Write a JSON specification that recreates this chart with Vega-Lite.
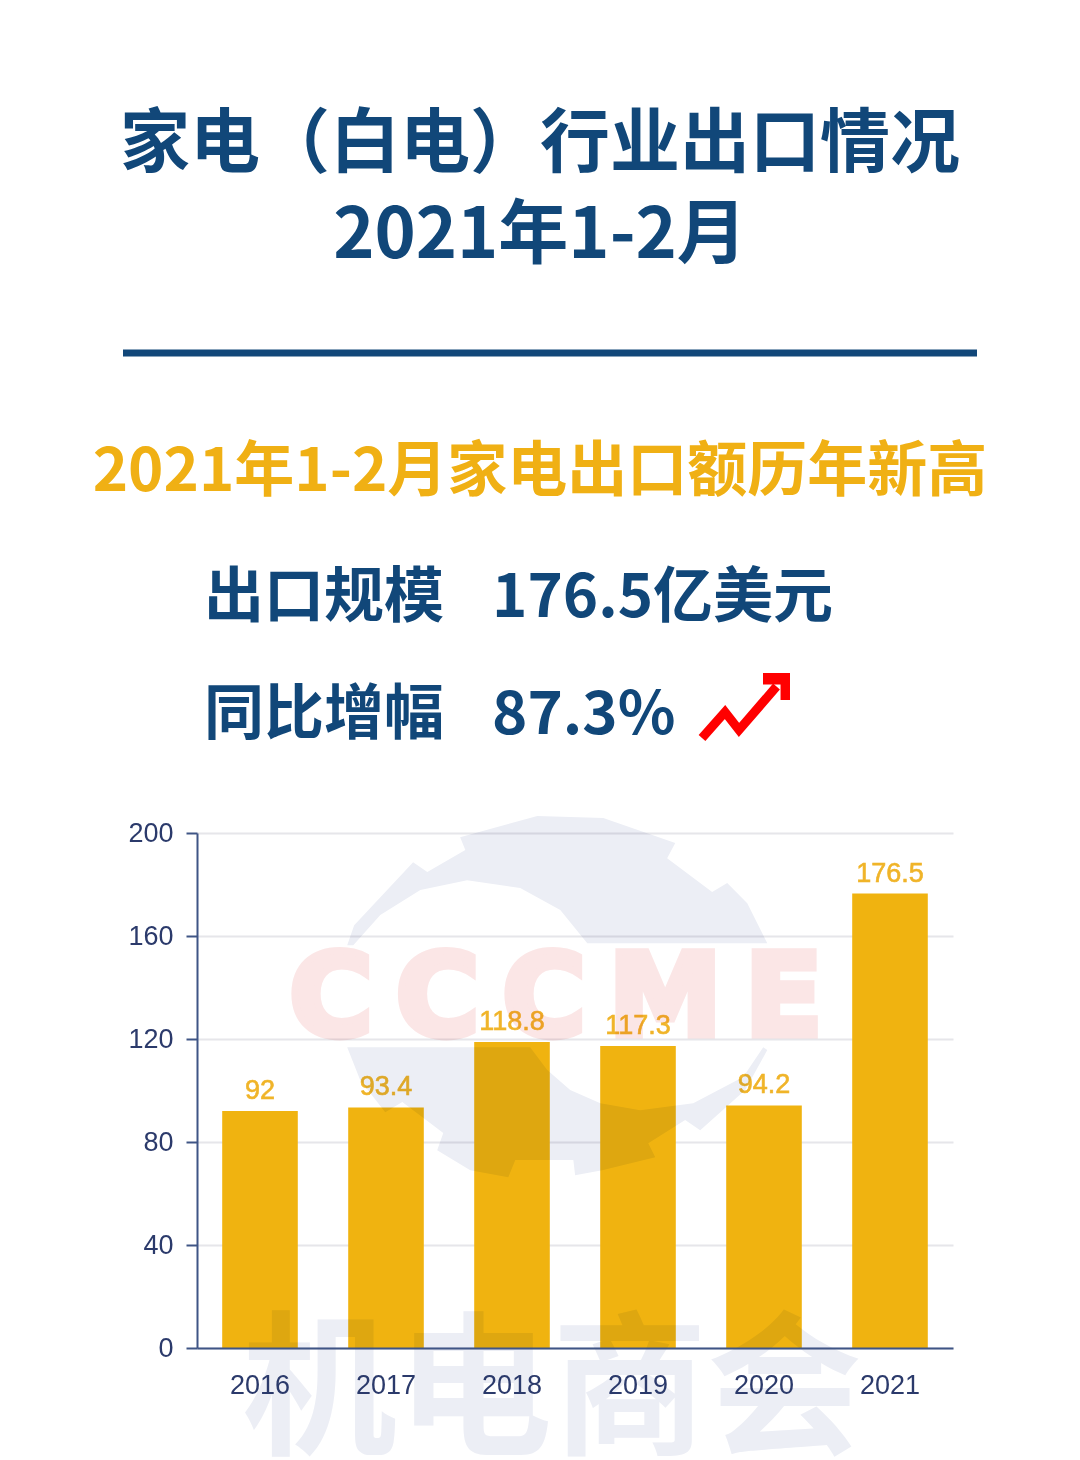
{
"$schema":"https://vega.github.io/schema/vega-lite/v6.json",
"background":"white",
"padding":{"left":92,"top":111,"right":0,"bottom":0},
"config":{"view":{"stroke":null},"font":"Noto Sans CJK SC"},
"spacing":0,
"datasets":{
"exports":[{"year":"2016","value":92},{"year":"2017","value":93.4},{"year":"2018","value":118.8},{"year":"2019","value":117.3},{"year":"2020","value":94.2},{"year":"2021","value":176.5}],
"metrics":[{"metric":"出口规模","column":"label","text":"出口规模"},{"metric":"出口规模","column":"value","text":"176.5亿美元"},{"metric":"同比增幅","column":"label","text":"同比增幅"},{"metric":"同比增幅","column":"value","text":"87.3%"}],
"trend":[{"t":0,"level":0},{"t":23,"level":26},{"t":37,"level":8},{"t":74.5,"level":51.5}]
},
"vconcat":[
{
"width":756,"height":543,
"title":{"text":["家电（白电）行业出口情况","2021年1-2月"],"anchor":"middle","dx":-35,"fontSize":70,"fontWeight":"bold","color":"#114779","lineHeight":91,"font":"Noto Sans CJK SC","offset":0},
"resolve":{"scale":{"x":"independent","y":"independent"}},
"layer":[
{"data":{"values":[{"part":"divider","from":0,"to":1}]},
"mark":{"type":"rule","color":"#114779","strokeWidth":7},
"encoding":{
"x":{"field":"from","type":"quantitative","axis":null,"scale":{"domain":[0,1],"range":[-74,780]}},
"x2":{"field":"to"},
"y":{"field":"part","type":"nominal","axis":null,"scale":{"type":"point","padding":0,"domain":["divider"],"range":[80,80]}}}},
{"data":{"values":[{"part":"headline","text":"2021年1-2月家电出口额历年新高"}]},
"mark":{"type":"text","align":"center","baseline":"middle","fontSize":60,"fontWeight":"bold","color":"#F0B014"},
"encoding":{
"x":{"field":"part","type":"nominal","axis":null,"scale":{"type":"point","padding":0,"domain":["headline"],"range":[343,343]}},
"y":{"field":"part","type":"nominal","axis":null,"scale":{"type":"point","padding":0,"domain":["headline"],"range":[200,200]}},
"text":{"field":"text"}}},
{"data":{"name":"metrics"},
"mark":{"type":"text","align":"left","baseline":"middle","fontSize":60,"fontWeight":"bold","color":"#114779"},
"encoding":{
"x":{"field":"column","type":"nominal","axis":null,"scale":{"type":"point","padding":0,"domain":["label","value"],"range":[7,295]}},
"y":{"field":"metric","type":"nominal","axis":null,"scale":{"type":"point","padding":0,"domain":["出口规模","同比增幅"],"range":[326,443]}},
"text":{"field":"text"}}},
{"data":{"name":"trend"},
"mark":{"type":"line","color":"#FF0000","strokeWidth":9,"strokeJoin":"miter"},
"encoding":{
"x":{"field":"t","type":"quantitative","axis":null,"scale":{"domain":[0,74.5],"range":[505,579.5],"nice":false,"zero":false}},
"y":{"field":"level","type":"quantitative","axis":null,"scale":{"domain":[0,51.5],"range":[465,413.5],"nice":false,"zero":false}}}},
{"data":{"name":"trend"},
"transform":[{"filter":"datum.level > 50"}],
"mark":{"type":"point","filled":true,"opacity":1,"color":"#FF0000","size":729,"shape":"M-1,-1 L1,-1 L1,1 L0.3,1 L0.3,-0.15 L-1,-0.15 Z"},
"encoding":{
"x":{"field":"t","type":"quantitative","axis":null,"scale":{"domain":[0,74.5],"range":[505,579.5],"nice":false,"zero":false}},
"y":{"field":"level","type":"quantitative","axis":null,"scale":{"domain":[0,51.5],"range":[465,413.5],"nice":false,"zero":false}}}}
]
},
{
"width":756,"height":515,
"data":{"name":"exports"},
"encoding":{
"x":{"field":"year","type":"nominal","title":null,"scale":{"type":"band","paddingInner":0.4,"paddingOuter":0.2,"domain":["2016","2017","2018","2019","2020","2021"]},
"axis":{"labelAngle":0,"labelFont":"Liberation Sans","labelFontSize":27,"labelColor":"#2B3A6B","labelPadding":24,"ticks":false,"domainColor":"#3F5585","domainWidth":2,"grid":false,"zindex":1}},
"y":{"field":"value","type":"quantitative","title":null,"scale":{"domain":[0,200],"nice":false},
"axis":{"values":[0,40,80,120,160,200],"labelFont":"Liberation Sans","labelFontSize":27,"labelColor":"#2B3A6B","labelPadding":13,"tickSize":11,"tickColor":"#3F5585","tickWidth":2,"domainColor":"#3F5585","domainWidth":2,"grid":true,"gridColor":"#E6E6EA","gridWidth":2,"zindex":0}}
},
"layer":[
{"mark":{"type":"bar","color":"#F0B310"}},
{"mark":{"type":"text","baseline":"bottom","dy":-6,"font":"Liberation Sans","fontSize":27,"color":"#F0B429","stroke":"#F0B429","strokeWidth":0.6},
"encoding":{"text":{"field":"value","type":"quantitative"}}},
{"data":{"values":[{"year":"2018","value":135.1,"name":"gear"}]},
"mark":{"type":"point","filled":true,"opacity":1,"color":"#ECEEF5","blend":"multiply","size":202500,
"shape":"M-.929,-.244 L-.898,-.333 L-.636,-.613 L-.573,-.569 L-.404,-.667 L-.427,-.724 L-.084,-.818 L.209,-.809 L.529,-.698 L.493,-.631 L.693,-.48 L.76,-.52 L.849,-.431 L.938,-.253 L.138,-.253 L.018,-.4 L-.16,-.498 L-.396,-.533 L-.604,-.489 L-.782,-.378 L-.902,-.244 Z M-.929,.209 L-.116,.209 L-.04,.311 L.062,.4 L.196,.458 L.373,.489 L.609,.458 L.831,.342 L.92,.209 L.938,.222 L.84,.4 L.64,.578 L.573,.533 L.409,.636 L.44,.698 L.204,.756 L.084,.778 L.076,.711 L-.182,.711 L-.213,.787 L-.382,.756 L-.529,.667 L-.502,.591 L-.684,.453 L-.76,.498 L-.871,.356 Z"},
"encoding":{"x":{"field":"year","type":"nominal","bandPosition":1.085}}},
{"data":{"values":[{"year":"2018","value":134.6,"name":"C\u2009C\u2009C\u2009M\u2009E"}]},
"mark":{"type":"text","align":"center","baseline":"middle","dx":44,"font":"DejaVu Sans","fontWeight":"bold","fontSize":114,"color":"#FBE6E6","stroke":"#FBE6E6","strokeWidth":7,"blend":"multiply"},
"encoding":{"text":{"field":"name"}}},
{"data":{"values":[{"year":"2018","value":-18.2,"name":"机电商会"}]},
"mark":{"type":"text","align":"center","baseline":"middle","dx":40,"fontSize":155,"fontWeight":"bold","color":"#ECEEF5","blend":"multiply"},
"encoding":{"text":{"field":"name"}}}
]
}
]
}
